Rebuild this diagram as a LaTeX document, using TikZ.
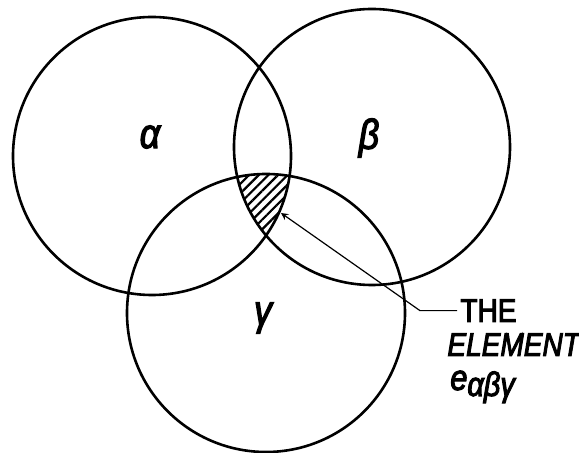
\documentclass[tikz,border=0pt]{standalone}
\usepackage{fontspec}
\setmainfont{Liberation Sans}[FakeStretch=0.85,FakeBold=3]
\usetikzlibrary{patterns.meta}
\tikzset{
  ring/.style={line width=1.3pt},
  greek/.style={font=\fontsize{21}{24}\selectfont\itshape},
  caption/.style={anchor=base west,inner sep=0pt,font=\fontsize{16.5}{20}\selectfont}
}
\begin{document}
\begin{tikzpicture}[x=0.5pt,y=-0.5pt,>=stealth]
\useasboundingbox (0,0) rectangle (579,453);
\coordinate (ca) at (152,156);
\coordinate (cb) at (372,147);
\coordinate (cc) at (266,313);
\begin{scope}
\clip (ca) circle[radius=69.5pt];
\clip (cb) circle[radius=69pt];
\fill[pattern={Lines[angle=45,distance=3.4pt,line width=1.1pt]}] (cc) circle[radius=69.5pt];
\end{scope}
\draw[ring] (ca) circle[radius=69.5pt];
\draw[ring] (cb) circle[radius=69pt];
\draw[ring] (cc) circle[radius=69.5pt];
\node[greek] (la) at (150,137) {α};
\node[greek] (lb) at (369,138) {β};
\node[greek] (lc) at (263,318) {γ};
\node[caption] (the) at (460,322) {THE};
\node[caption,font=\fontsize{16.5}{20}\selectfont\itshape] (elem) at (447,356) {ELEMENT};
\node[caption,font=\fontsize{18}{20}\selectfont\itshape] (eabg) at (450,390) {e\raisebox{-3pt}{\fontsize{17}{20}\selectfont αβγ}};
\coordinate (tip) at (281,213);
\coordinate (bend) at (420,307);
\draw[->,line width=0.6pt] (the.west) ++(-3,0) -- (bend |- the.west) -- (tip);
\end{tikzpicture}
\end{document}
